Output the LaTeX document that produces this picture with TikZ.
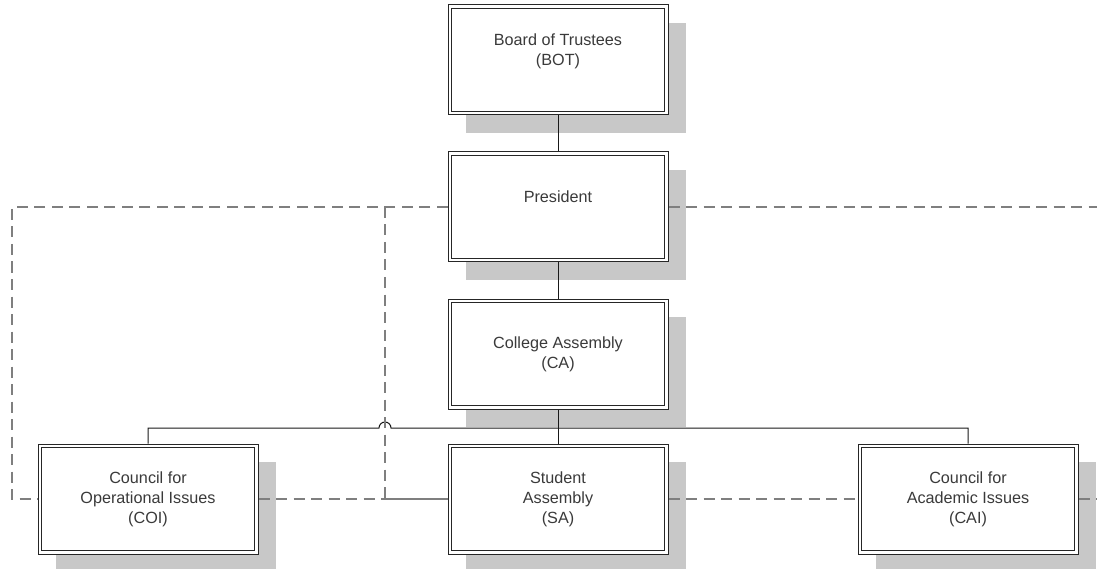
\documentclass[tikz,border=0pt]{standalone}
\usepackage{fontspec}
\setmainfont{Liberation Sans}
\usetikzlibrary{shadows,calc}
\definecolor{txt}{HTML}{3A3A3A}
\definecolor{shade}{HTML}{C8C8C8}
\definecolor{dash}{HTML}{7F7F7F}
\tikzset{
  orgbox/.style={draw=black!85, line width=1pt, fill=white,
    minimum width=220pt, minimum height=110pt, inner sep=0pt,
    align=center, text=txt,
    font=\fontsize{16.2pt}{20pt}\selectfont,
    drop shadow={shadow xshift=18pt, shadow yshift=-18pt, fill=shade, opacity=1, draw=none}},
  inner/.style={draw=black!85, line width=1.3pt},
  solidline/.style={draw=black!90, line width=1pt},
  dashline/.style={draw=dash, line width=2pt, dash pattern=on 11pt off 6.5pt}
}
\begin{document}
\begin{tikzpicture}[x=1pt,y=-1pt]
\useasboundingbox (0,0) rectangle (1097,569);
\node[orgbox] (bot) at (558,60) {Board of Trustees\\(BOT)\\\mbox{}};
\node[orgbox] (pres) at (558,207) {President\\\mbox{}};
\node[orgbox] (ca) at (558,354) {College Assembly\\(CA)};
\node[orgbox] (coi) at (148,499) {Council for\\Operational Issues\\(COI)};
\node[orgbox] (sa) at (558,499) {Student\\Assembly\\(SA)};
\node[orgbox] (cai) at (968,499) {Council for\\Academic Issues\\(CAI)};
\foreach \n in {bot,pres,ca,coi,sa,cai}{
  \draw[inner] ($(\n.north west)+(4,4)$) rectangle ($(\n.south east)+(-4,-4)$);
}
% solid connectors
\coordinate (j) at (558,428);
\draw[solidline] (bot.south) -- (pres.north);
\draw[solidline] (pres.south) -- (ca.north);
\draw[solidline] (ca.south) -- (sa.north);
\draw[solidline] (coi.north) -- (coi.north |- j) -- (379,428) arc[start angle=180, end angle=360, radius=6] -- (cai.north |- j) -- (cai.north);
% dashed connectors
\coordinate (ltop) at (12,207);
\coordinate (lbot) at (12,499);
\coordinate (mtop) at (385,207);
\coordinate (mbot) at (385,499);
\coordinate (rtop) at (1097,207);
\coordinate (rbot) at (1097,499);
\draw[dashline] (pres.west) -- (ltop) -- (lbot) -- (coi.west);
\draw[dashline] (mtop) -- (mbot) -- (sa.west);
\draw[dashline] (coi.east) -- (sa.west);
\draw[dashline] (sa.east) -- (cai.west);
\draw[dashline] (cai.east) -- (rbot);
\draw[dashline] (pres.east) -- (rtop);
\end{tikzpicture}
\end{document}
